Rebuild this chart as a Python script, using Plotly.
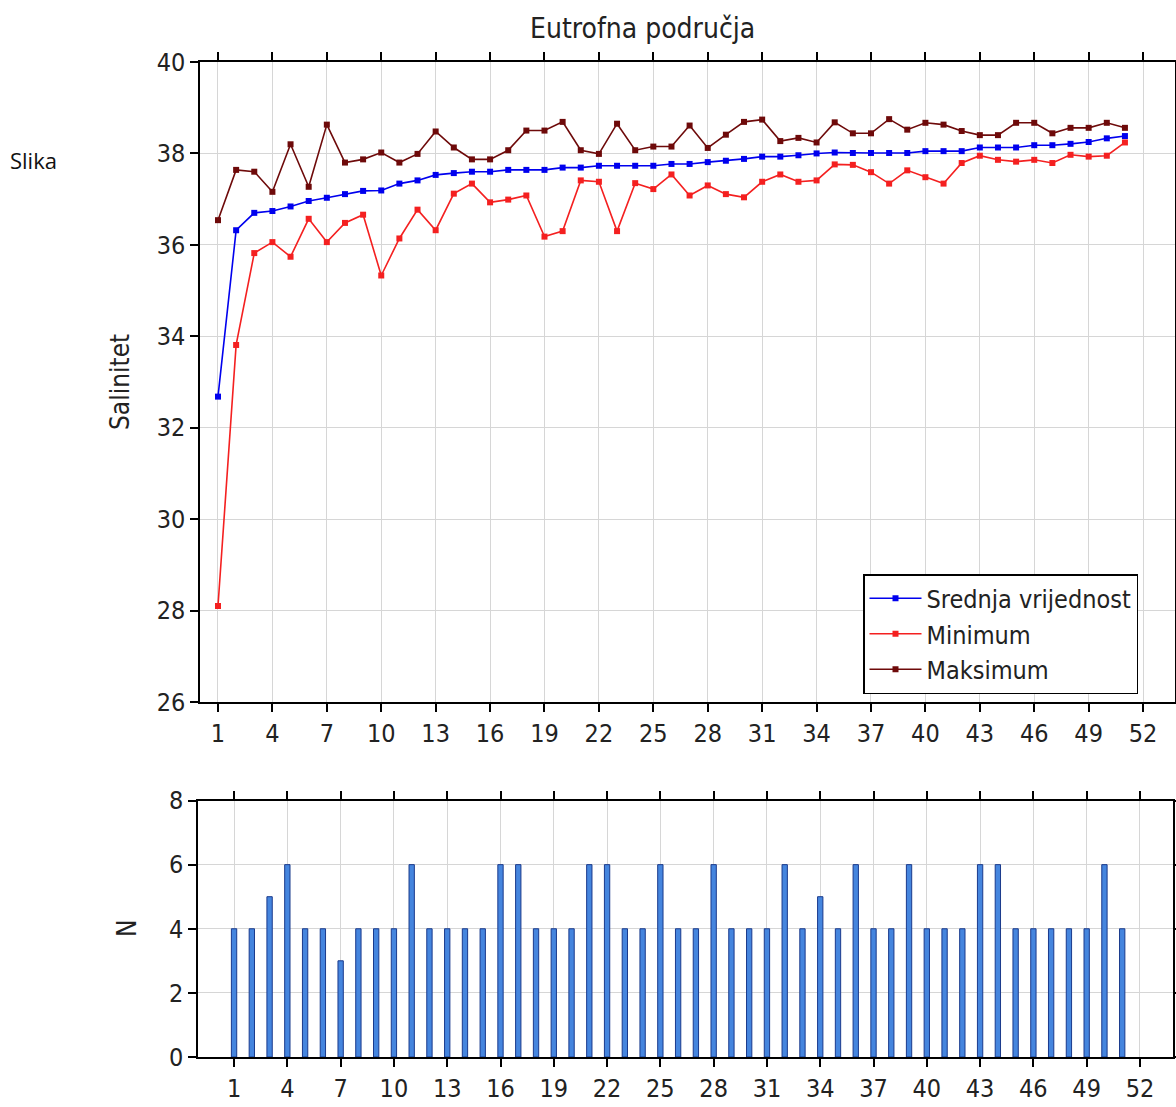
import plotly.graph_objects as go

weeks = list(range(1, 52))
mean_vals = [32.68, 36.32, 36.70, 36.74, 36.84, 36.96, 37.03, 37.11, 37.18, 37.19,
             37.34, 37.41, 37.53, 37.57, 37.60, 37.60, 37.64, 37.64, 37.64, 37.69,
             37.69, 37.73, 37.73, 37.73, 37.73, 37.77, 37.77, 37.81, 37.84, 37.88,
             37.93, 37.93, 37.96, 38.00, 38.02, 38.01, 38.01, 38.01, 38.01, 38.05,
             38.05, 38.05, 38.13, 38.13, 38.13, 38.18, 38.18, 38.21, 38.25, 38.33, 38.38]
min_vals = [28.10, 33.81, 35.82, 36.06, 35.74, 36.57, 36.06, 36.48, 36.66, 35.33,
            36.14, 36.77, 36.32, 37.12, 37.34, 36.93, 36.99, 37.08, 36.18, 36.30,
            37.41, 37.38, 36.30, 37.35, 37.22, 37.54, 37.08, 37.30, 37.11, 37.04,
            37.38, 37.54, 37.38, 37.41, 37.76, 37.75, 37.59, 37.34, 37.63, 37.48,
            37.34, 37.79, 37.95, 37.86, 37.82, 37.86, 37.79, 37.97, 37.93, 37.95, 38.24]
max_vals = [36.54, 37.64, 37.60, 37.16, 38.20, 37.27, 38.63, 37.80, 37.87, 38.02,
            37.80, 37.99, 38.48, 38.13, 37.87, 37.87, 38.07, 38.50, 38.50, 38.69,
            38.07, 37.99, 38.65, 38.07, 38.15, 38.15, 38.61, 38.12, 38.41, 38.69,
            38.74, 38.27, 38.34, 38.24, 38.68, 38.44, 38.44, 38.75, 38.52, 38.67,
            38.63, 38.49, 38.40, 38.40, 38.67, 38.67, 38.44, 38.56, 38.56, 38.67, 38.56]
n_vals = [4, 4, 5, 6, 4, 4, 3, 4, 4, 4, 6, 4, 4, 4, 4, 6, 6, 4, 4, 4,
          6, 6, 4, 4, 6, 4, 4, 6, 4, 4, 4, 6, 4, 5, 4, 6, 4, 4, 6, 4,
          4, 4, 6, 6, 4, 4, 4, 4, 4, 6, 4]
x_ticks = list(range(1, 53, 3))
series_names = ["Srednja vrijednost", "Minimum", "Maksimum"]

FONT = "Liberation Sans Narrow, Arial Narrow, DejaVu Sans Condensed, Liberation Sans, sans-serif"
W, H = 1176, 1107

fig = go.Figure()
colors = ["#0000ee", "#f42020", "#6e0a0a"]
for name, vals, col in zip(series_names, [mean_vals, min_vals, max_vals], colors):
    fig.add_trace(go.Scatter(
        x=weeks, y=vals, name=name, mode="lines+markers",
        line=dict(color=col, width=1.6),
        marker=dict(symbol="square", size=6, color=col),
        xaxis="x", yaxis="y"))

fig.add_trace(go.Bar(
    x=weeks, y=n_vals, width=0.3, showlegend=False,
    marker=dict(color="#4585de", line=dict(color="#1a3a8c", width=1)),
    xaxis="x2", yaxis="y2"))

axis_common = dict(showline=True, linecolor="black", linewidth=1.5, mirror="ticks",
                   ticks="outside", ticklen=8, tickcolor="black", tickwidth=1.5,
                   showgrid=True, gridcolor="#d6d6d6", gridwidth=1, zeroline=False,
                   automargin=False,
                   tickfont=dict(family=FONT, size=25, color="#222"))

def px_x(p):
    return p / W

def px_y(p):
    return 1 - p / H

fig.update_layout(
    width=W, height=H, margin=dict(l=0, r=0, t=0, b=0),
    paper_bgcolor="white", plot_bgcolor="white",
    showlegend=True,
    legend=dict(x=px_x(863), y=px_y(574), xanchor="left", yanchor="top",
                bgcolor="white", bordercolor="black", borderwidth=1.5,
                font=dict(family=FONT, size=25, color="#222"),
                itemwidth=52, tracegroupgap=0),
    xaxis=dict(domain=[px_x(200), px_x(1175)], range=[0.008, 53.76],
               tickmode="array", tickvals=x_ticks, anchor="y", **axis_common),
    yaxis=dict(domain=[px_y(702), px_y(62)], range=[26, 40], dtick=2,
               anchor="x", **axis_common),
    xaxis2=dict(domain=[px_x(198), px_x(1173)], range=[-1.03, 53.86],
                tickmode="array", tickvals=x_ticks, anchor="y2", **axis_common),
    yaxis2=dict(domain=[px_y(1057), px_y(800.5)], range=[0, 8], dtick=2,
                anchor="x2", **axis_common),
    annotations=[
        dict(text="Eutrofna područja", x=px_x(642), y=px_y(29), xref="paper", yref="paper",
             xanchor="center", yanchor="middle",
             showarrow=False, font=dict(family=FONT, size=28, color="#222")),
        dict(text="Salinitet", x=px_x(120), y=px_y(382), xref="paper", yref="paper",
             xanchor="center", yanchor="middle",
             textangle=-90, showarrow=False, font=dict(family=FONT, size=26, color="#222")),
        dict(text="N", x=px_x(127), y=px_y(928), xref="paper", yref="paper",
             xanchor="center", yanchor="middle",
             textangle=-90, showarrow=False, font=dict(family=FONT, size=26, color="#222")),
        dict(text="Slika", x=px_x(8), y=px_y(160), xref="paper", yref="paper",
             xanchor="left", yanchor="middle",
             showarrow=False, font=dict(family="Open Sans, sans-serif", size=22, color="#111")),
    ],
)

fig.write_html("out.html")
